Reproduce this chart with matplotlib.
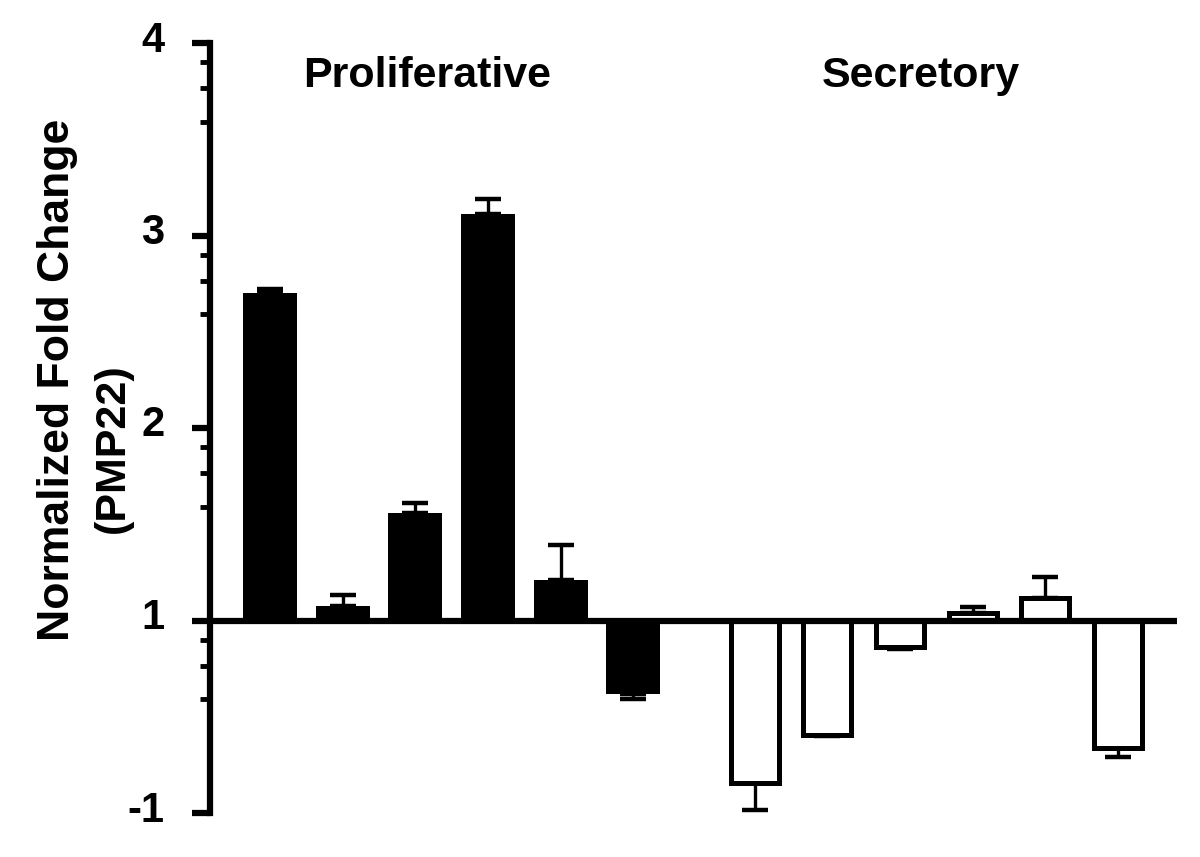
import numpy as np
import matplotlib
matplotlib.use("Agg")
import matplotlib.pyplot as plt
from matplotlib.transforms import ScaledTranslation

plt.rcParams['font.family'] = ['Liberation Sans', 'DejaVu Sans']
plt.rcParams['font.weight'] = 'bold'

# Values in axis units (tick "-1" sits at 0, "1" at 1, "2" at 2 ...)
groups = ["Proliferative", "Secretory"]
proliferative = [2.70, 1.075, 1.56, 3.11, 1.21, 0.62]
proliferative_err = [0.02, 0.055, 0.05, 0.08, 0.18, 0.03]
secretory = [0.156, 0.405, 0.86, 1.04, 1.117, 0.34]
secretory_err = [0.14, 0.005, 0.01, 0.03, 0.11, 0.05]
tick_positions = [0, 1, 2, 3, 4]
tick_labels = ["-1", "1", "2", "3", "4"]
baseline = 1.0

fig = plt.figure(figsize=(12, 8.57), dpi=100)
ax = fig.add_axes([0.175, 1 - 813 / 857, 0.9808 - 0.175, (813 - 43) / 857])

x_p = np.arange(len(proliferative))
x_s = np.arange(len(secretory)) + len(proliferative) + 0.67


def draw(xs, vals, errs, face, width, lw):
    vals = np.asarray(vals)
    errs = np.asarray(errs)
    ax.bar(xs, vals - baseline, bottom=baseline, width=width, color=face,
           edgecolor='black', linewidth=lw, zorder=3)
    up = np.where(vals >= baseline, errs, 0)
    dn = np.where(vals < baseline, errs, 0)
    ax.errorbar(xs, vals, yerr=[dn, up], fmt='none', ecolor='black',
                elinewidth=2.4, capsize=9.5, capthick=3.2, zorder=2, clip_on=False)


draw(x_p, proliferative, proliferative_err, 'black', 0.74, 0)
draw(x_s, secretory, secretory_err, 'white', 0.66, 3.6)

ax.axhline(baseline, color='black', linewidth=4.5, zorder=4)

ax.set_xlim(-0.825, 12.48)
ax.set_ylim(0, 4)

for s in ['top', 'right', 'bottom']:
    ax.spines[s].set_visible(False)
ax.spines['left'].set_linewidth(4.5)
ax.set_xticks([])

ax.set_yticks(tick_positions)
ax.set_yticklabels(tick_labels, fontsize=30, fontweight='bold')
minor = []
for m in [1, 2, 3, 4]:
    for off in [0.1, 0.235, 0.41]:
        minor.append(m - off)
ax.set_yticks(minor, minor=True)
ax.tick_params(axis='y', which='major', length=13, width=4.5, pad=20)
ax.tick_params(axis='y', which='minor', length=7, width=3.5)
for lab in ax.get_yticklabels():
    lab.set_transform(lab.get_transform() + ScaledTranslation(0, 7 / 100, fig.dpi_scale_trans))

ax.text(np.mean(x_p) - 0.34, 3.77, groups[0], fontsize=31, fontweight='bold',
        ha='center', va='baseline')
ax.text(np.mean(x_s) - 0.22, 3.77, groups[1], fontsize=31, fontweight='bold',
        ha='center', va='baseline')

fig.text(58 / 1200, 1 - 380 / 857, "Normalized Fold Change", rotation=90,
         fontsize=32, fontweight='bold', ha='center', va='center')
fig.text(113 / 1200, 1 - 448 / 857, "(PMP22)", rotation=90,
         fontsize=31, fontweight='bold', ha='center', va='center')

fig.savefig("out.png", dpi=100, facecolor='white')
